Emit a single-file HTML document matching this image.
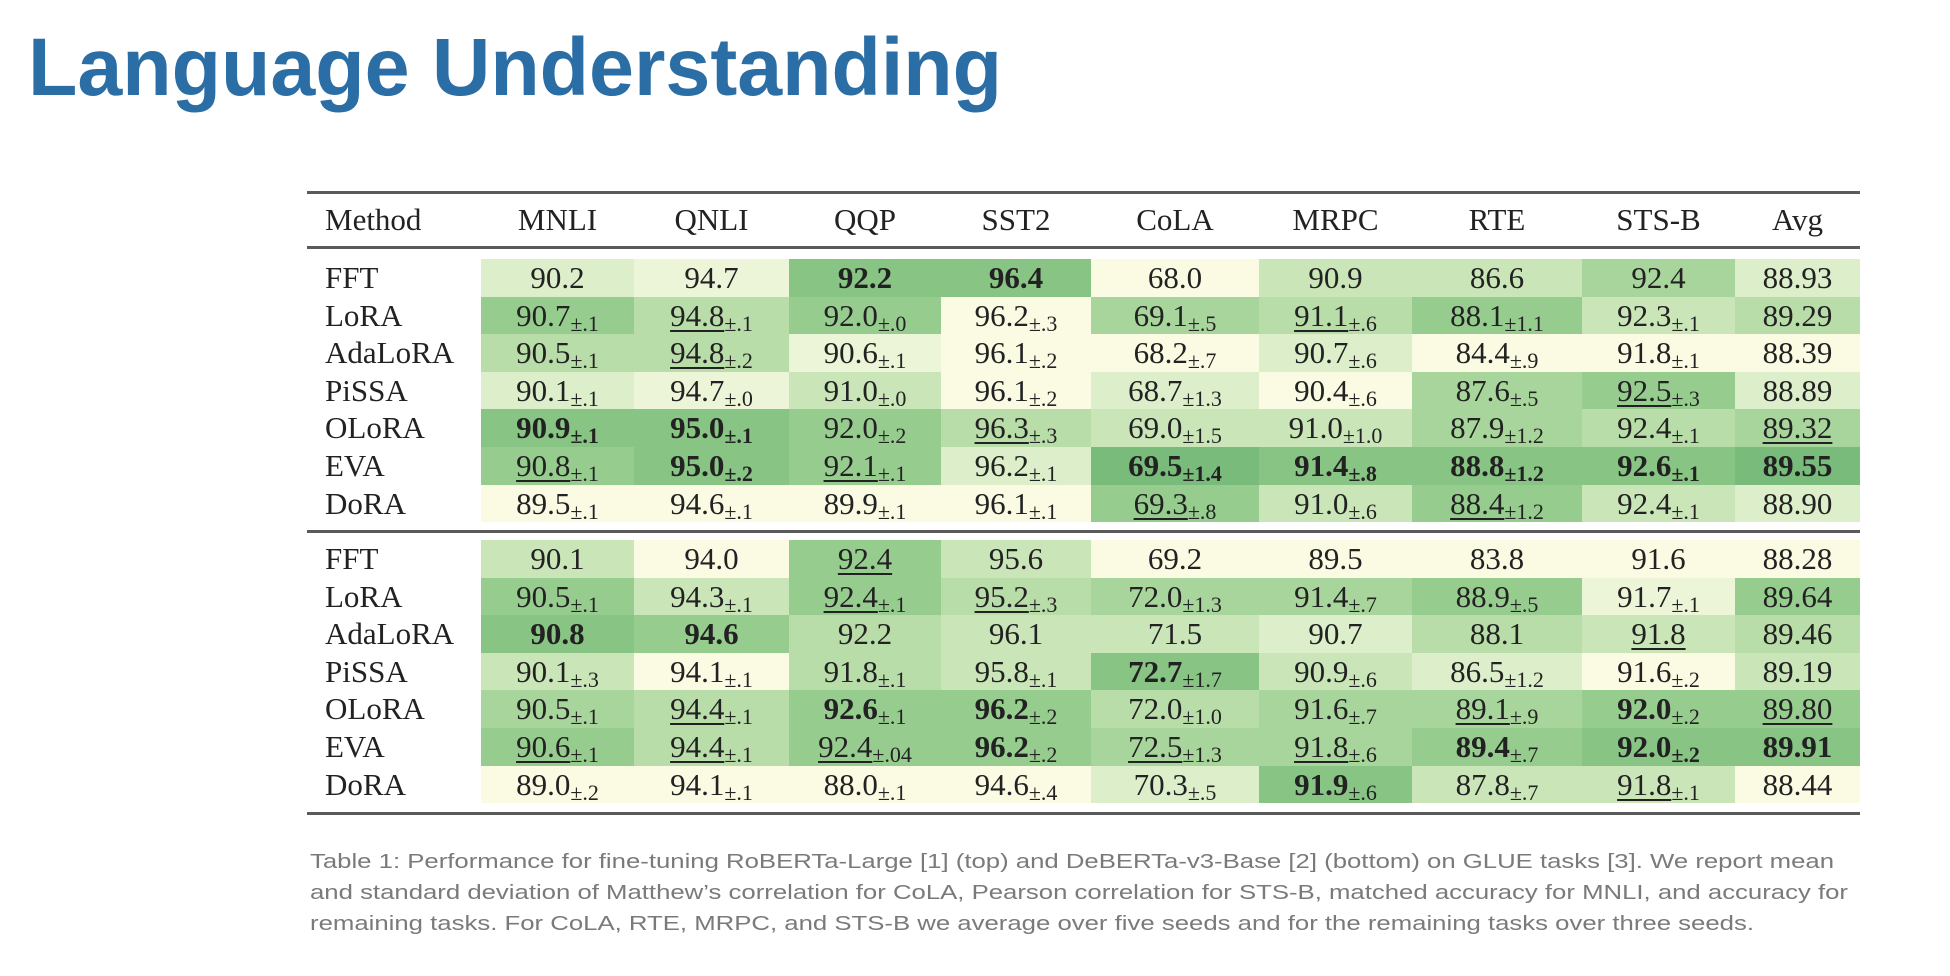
<!DOCTYPE html>
<html><head><meta charset="utf-8"><style>
body{margin:0;width:1950px;height:976px;background:#fff;position:relative;overflow:hidden}
.rule{position:absolute;left:307px;width:1553px;background:#5a5a5a}
table{position:absolute;left:307px;width:1553px;border-collapse:collapse;table-layout:fixed;font-family:"Liberation Serif",serif;font-size:31px;color:#222}
td{padding:0;text-align:center;white-space:nowrap;height:37.6px;line-height:37.6px;overflow:hidden}
td.m{text-align:left;padding-left:18px;background:#fff}
sub{font-size:22px;line-height:0;vertical-align:-5px}
b{font-weight:bold}
u{text-decoration:underline;text-decoration-thickness:2px;text-underline-offset:4px}
.g0{background:#fbfbe4}.g1{background:#ecf5d7}.g2{background:#dcefca}.g3{background:#cae6b8}.g4{background:#b9dda8}.g5{background:#a8d59b}.g6{background:#97cc8f}.g7{background:#88c484}.g8{background:#79bb7a}
.hd td{background:#fff}
</style></head><body>
<svg style="position:absolute;left:0;top:0" width="1950" height="976">
<text x="28" y="95" font-family="Liberation Sans, sans-serif" font-weight="bold" font-size="82" fill="#2b6ea6" textLength="974" lengthAdjust="spacingAndGlyphs">Language Understanding</text>
<g font-family="Liberation Sans, sans-serif" font-size="20.5" fill="#7a7a7a">
<text x="310" y="868" textLength="1524" lengthAdjust="spacingAndGlyphs">Table 1: Performance for fine-tuning RoBERTa-Large [1] (top) and DeBERTa-v3-Base [2] (bottom) on GLUE tasks [3]. We report mean</text>
<text x="310" y="899" textLength="1538" lengthAdjust="spacingAndGlyphs">and standard deviation of Matthew’s correlation for CoLA, Pearson correlation for STS-B, matched accuracy for MNLI, and accuracy for</text>
<text x="310" y="930" textLength="1444" lengthAdjust="spacingAndGlyphs">remaining tasks. For CoLA, RTE, MRPC, and STS-B we average over five seeds and for the remaining tasks over three seeds.</text>
</g></svg>
<div class="rule" style="top:191px;height:3px"></div>
<div class="rule" style="top:246px;height:3px"></div>
<div class="rule" style="top:530px;height:3px"></div>
<div class="rule" style="top:812px;height:3px"></div>
<table class="hd" style="top:201px">
<colgroup><col style="width:174px"><col style="width:153px"><col style="width:155px"><col style="width:152px"><col style="width:150px"><col style="width:168px"><col style="width:153px"><col style="width:170px"><col style="width:153px"><col style="width:125px"></colgroup>
<tr><td class="m">Method</td><td>MNLI</td><td>QNLI</td><td>QQP</td><td>SST2</td><td>CoLA</td><td>MRPC</td><td>RTE</td><td>STS-B</td><td>Avg</td></tr>
</table>
<table style="top:259px">
<colgroup><col style="width:174px"><col style="width:153px"><col style="width:155px"><col style="width:152px"><col style="width:150px"><col style="width:168px"><col style="width:153px"><col style="width:170px"><col style="width:153px"><col style="width:125px"></colgroup>
<tr><td class="m">FFT</td><td class="g2">90.2</td><td class="g1">94.7</td><td class="g7"><b>92.2</b></td><td class="g7"><b>96.4</b></td><td class="g0">68.0</td><td class="g3">90.9</td><td class="g3">86.6</td><td class="g5">92.4</td><td class="g2">88.93</td></tr>
<tr><td class="m">LoRA</td><td class="g6">90.7<sub>±.1</sub></td><td class="g4"><u>94.8</u><sub>±.1</sub></td><td class="g6">92.0<sub>±.0</sub></td><td class="g0">96.2<sub>±.3</sub></td><td class="g5">69.1<sub>±.5</sub></td><td class="g4"><u>91.1</u><sub>±.6</sub></td><td class="g6">88.1<sub>±1.1</sub></td><td class="g3">92.3<sub>±.1</sub></td><td class="g4">89.29</td></tr>
<tr><td class="m">AdaLoRA</td><td class="g4">90.5<sub>±.1</sub></td><td class="g4"><u>94.8</u><sub>±.2</sub></td><td class="g1">90.6<sub>±.1</sub></td><td class="g0">96.1<sub>±.2</sub></td><td class="g0">68.2<sub>±.7</sub></td><td class="g2">90.7<sub>±.6</sub></td><td class="g0">84.4<sub>±.9</sub></td><td class="g0">91.8<sub>±.1</sub></td><td class="g0">88.39</td></tr>
<tr><td class="m">PiSSA</td><td class="g2">90.1<sub>±.1</sub></td><td class="g1">94.7<sub>±.0</sub></td><td class="g3">91.0<sub>±.0</sub></td><td class="g0">96.1<sub>±.2</sub></td><td class="g2">68.7<sub>±1.3</sub></td><td class="g0">90.4<sub>±.6</sub></td><td class="g5">87.6<sub>±.5</sub></td><td class="g6"><u>92.5</u><sub>±.3</sub></td><td class="g2">88.89</td></tr>
<tr><td class="m">OLoRA</td><td class="g7"><b>90.9<sub>±.1</sub></b></td><td class="g7"><b>95.0<sub>±.1</sub></b></td><td class="g6">92.0<sub>±.2</sub></td><td class="g4"><u>96.3</u><sub>±.3</sub></td><td class="g3">69.0<sub>±1.5</sub></td><td class="g3">91.0<sub>±1.0</sub></td><td class="g5">87.9<sub>±1.2</sub></td><td class="g4">92.4<sub>±.1</sub></td><td class="g5"><u>89.32</u></td></tr>
<tr><td class="m">EVA</td><td class="g6"><u>90.8</u><sub>±.1</sub></td><td class="g7"><b>95.0<sub>±.2</sub></b></td><td class="g6"><u>92.1</u><sub>±.1</sub></td><td class="g2">96.2<sub>±.1</sub></td><td class="g8"><b>69.5<sub>±1.4</sub></b></td><td class="g7"><b>91.4<sub>±.8</sub></b></td><td class="g7"><b>88.8<sub>±1.2</sub></b></td><td class="g7"><b>92.6<sub>±.1</sub></b></td><td class="g8"><b>89.55</b></td></tr>
<tr><td class="m">DoRA</td><td class="g0">89.5<sub>±.1</sub></td><td class="g0">94.6<sub>±.1</sub></td><td class="g0">89.9<sub>±.1</sub></td><td class="g0">96.1<sub>±.1</sub></td><td class="g6"><u>69.3</u><sub>±.8</sub></td><td class="g3">91.0<sub>±.6</sub></td><td class="g6"><u>88.4</u><sub>±1.2</sub></td><td class="g3">92.4<sub>±.1</sub></td><td class="g2">88.90</td></tr>
</table>
<table style="top:540px">
<colgroup><col style="width:174px"><col style="width:153px"><col style="width:155px"><col style="width:152px"><col style="width:150px"><col style="width:168px"><col style="width:153px"><col style="width:170px"><col style="width:153px"><col style="width:125px"></colgroup>
<tr><td class="m">FFT</td><td class="g3">90.1</td><td class="g0">94.0</td><td class="g6"><u>92.4</u></td><td class="g3">95.6</td><td class="g0">69.2</td><td class="g0">89.5</td><td class="g0">83.8</td><td class="g0">91.6</td><td class="g0">88.28</td></tr>
<tr><td class="m">LoRA</td><td class="g6">90.5<sub>±.1</sub></td><td class="g3">94.3<sub>±.1</sub></td><td class="g6"><u>92.4</u><sub>±.1</sub></td><td class="g4"><u>95.2</u><sub>±.3</sub></td><td class="g5">72.0<sub>±1.3</sub></td><td class="g5">91.4<sub>±.7</sub></td><td class="g6">88.9<sub>±.5</sub></td><td class="g1">91.7<sub>±.1</sub></td><td class="g6">89.64</td></tr>
<tr><td class="m">AdaLoRA</td><td class="g7"><b>90.8</b></td><td class="g6"><b>94.6</b></td><td class="g4">92.2</td><td class="g3">96.1</td><td class="g3">71.5</td><td class="g2">90.7</td><td class="g4">88.1</td><td class="g3"><u>91.8</u></td><td class="g4">89.46</td></tr>
<tr><td class="m">PiSSA</td><td class="g3">90.1<sub>±.3</sub></td><td class="g0">94.1<sub>±.1</sub></td><td class="g4">91.8<sub>±.1</sub></td><td class="g3">95.8<sub>±.1</sub></td><td class="g7"><b>72.7</b><sub>±1.7</sub></td><td class="g3">90.9<sub>±.6</sub></td><td class="g2">86.5<sub>±1.2</sub></td><td class="g0">91.6<sub>±.2</sub></td><td class="g3">89.19</td></tr>
<tr><td class="m">OLoRA</td><td class="g5">90.5<sub>±.1</sub></td><td class="g4"><u>94.4</u><sub>±.1</sub></td><td class="g6"><b>92.6</b><sub>±.1</sub></td><td class="g6"><b>96.2</b><sub>±.2</sub></td><td class="g4">72.0<sub>±1.0</sub></td><td class="g5">91.6<sub>±.7</sub></td><td class="g5"><u>89.1</u><sub>±.9</sub></td><td class="g6"><b>92.0</b><sub>±.2</sub></td><td class="g6"><u>89.80</u></td></tr>
<tr><td class="m">EVA</td><td class="g6"><u>90.6</u><sub>±.1</sub></td><td class="g4"><u>94.4</u><sub>±.1</sub></td><td class="g6"><u>92.4</u><sub>±.04</sub></td><td class="g6"><b>96.2</b><sub>±.2</sub></td><td class="g5"><u>72.5</u><sub>±1.3</sub></td><td class="g5"><u>91.8</u><sub>±.6</sub></td><td class="g6"><b>89.4</b><sub>±.7</sub></td><td class="g7"><b>92.0<sub>±.2</sub></b></td><td class="g7"><b>89.91</b></td></tr>
<tr><td class="m">DoRA</td><td class="g0">89.0<sub>±.2</sub></td><td class="g0">94.1<sub>±.1</sub></td><td class="g0">88.0<sub>±.1</sub></td><td class="g0">94.6<sub>±.4</sub></td><td class="g2">70.3<sub>±.5</sub></td><td class="g7"><b>91.9</b><sub>±.6</sub></td><td class="g3">87.8<sub>±.7</sub></td><td class="g3"><u>91.8</u><sub>±.1</sub></td><td class="g0">88.44</td></tr>
</table>
</body></html>
